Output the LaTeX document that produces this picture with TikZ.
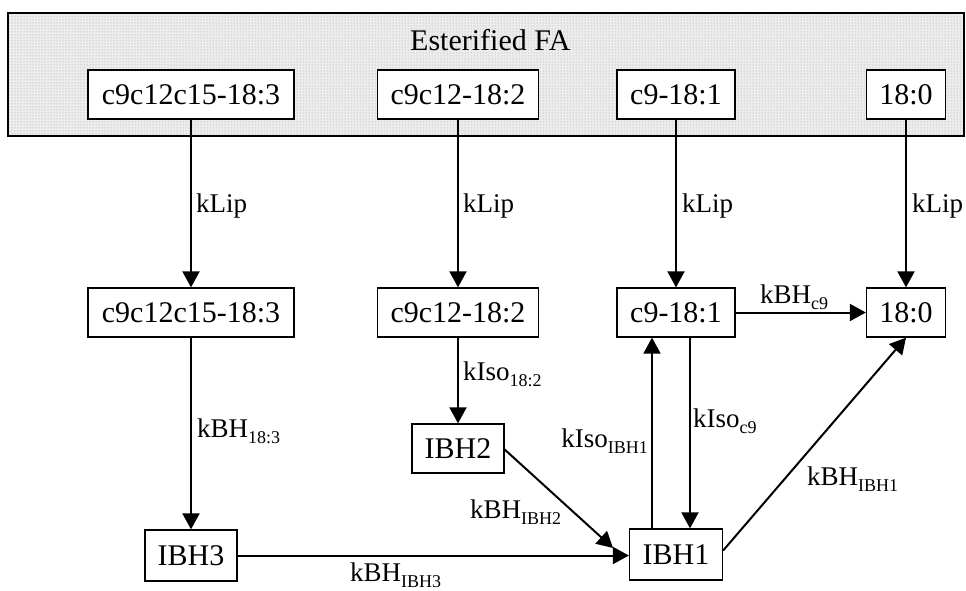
\documentclass[tikz,border=0pt]{standalone}
\usepackage{fontspec}
\setmainfont{Liberation Serif}
\usetikzlibrary{arrows.meta,patterns,calc}
\newcommand\lsub[1]{\raisebox{-6pt}{\fontsize{18}{20}\selectfont #1}}
\tikzset{
  box/.style={draw, line width=1.3pt, fill=white, inner sep=0pt, font=\fontsize{30}{34}\selectfont},
  arr/.style={line width=2pt, -{Triangle[length=16pt,width=17pt]}},
  lbl/.style={anchor=base west, inner sep=0pt, font=\fontsize{27}{30}\selectfont},
}
\begin{document}
\begin{tikzpicture}[x=1pt,y=-1pt]
\useasboundingbox (0,0) rectangle (966,590);
% esterified FA band
\path[fill=gray!14] (8,13) rectangle (964,136);
\path[pattern=dots, pattern color=gray!75] (8,13) rectangle (964,136);
\draw[line width=1.3pt] (8,13) rectangle (964,136);
\node[anchor=base west, inner sep=0pt, font=\fontsize{30}{34}\selectfont] (title) at (410,50) {Esterified FA};
% top row
\node[box, minimum width=206pt, minimum height=49pt] (t1) at (191,94.5) {c9c12c15-18:3};
\node[box, minimum width=161pt, minimum height=49pt] (t2) at (458,94.5) {c9c12-18:2};
\node[box, minimum width=118pt, minimum height=49pt] (t3) at (676,94.5) {c9-18:1};
\node[box, minimum width=79pt, minimum height=49pt] (t4) at (906,94.5) {18:0};
% middle row
\node[box, minimum width=206pt, minimum height=49pt] (m1) at (191,312.5) {c9c12c15-18:3};
\node[box, minimum width=161pt, minimum height=49pt] (m2) at (458,312.5) {c9c12-18:2};
\node[box, minimum width=118pt, minimum height=49pt] (m3) at (676,312.5) {c9-18:1};
\node[box, minimum width=79pt, minimum height=49pt] (m4) at (906,312.5) {18:0};
% bottom
\node[box, minimum width=92pt, minimum height=49pt] (b2) at (458,448.5) {IBH2};
\node[box, minimum width=93pt, minimum height=51pt] (b1) at (676,554.5) {IBH1};
\node[box, minimum width=92pt, minimum height=51pt] (b3) at (191,555.5) {IBH3};
% connectors
\draw[arr] (t1) -- (m1);
\draw[arr] (t2) -- (m2);
\draw[arr] (t3) -- (m3);
\draw[arr] (t4) -- (m4);
\draw[arr] (m1) -- (b3);
\draw[arr] (m2) -- (b2);
\draw[arr] (m3) -- (m4);
\draw[arr] ($(b1.north)+(-24,0)$) -- ($(m3.south)+(-24,0)$);
\draw[arr] ($(m3.south)+(14,0)$) -- ($(b1.north)+(14,0)$);
\coordinate (b2end) at (613,548);
\draw[arr] ($(b2.east)+(0,1)$) -- (b2end);
\draw[arr] (b3) -- (b3 -| b1.west);
\draw[arr] ($(b1.east)+(0,-4)$) -- (m4.south);
% labels
\node[lbl] (l1) at (196,212) {kLip};
\node[lbl] (l2) at (463,212) {kLip};
\node[lbl] (l3) at (682,212) {kLip};
\node[lbl] (l4) at (912,212) {kLip};
\node[lbl] (l5) at (197,437) {kBH\lsub{18:3}};
\node[lbl] (l6) at (463,380) {kIso\lsub{18:2}};
\node[lbl, anchor=base east] (l7) at (648,447) {kIso\lsub{IBH1}};
\node[lbl] (l8) at (693,427) {kIso\lsub{c9}};
\node[lbl] (l9) at (760,303) {kBH\lsub{c9}};
\node[lbl] (l10) at (807,485) {kBH\lsub{IBH1}};
\node[lbl] (l11) at (470,518) {kBH\lsub{IBH2}};
\node[lbl] (l12) at (350,581) {kBH\lsub{IBH3}};
\end{tikzpicture}
\end{document}
